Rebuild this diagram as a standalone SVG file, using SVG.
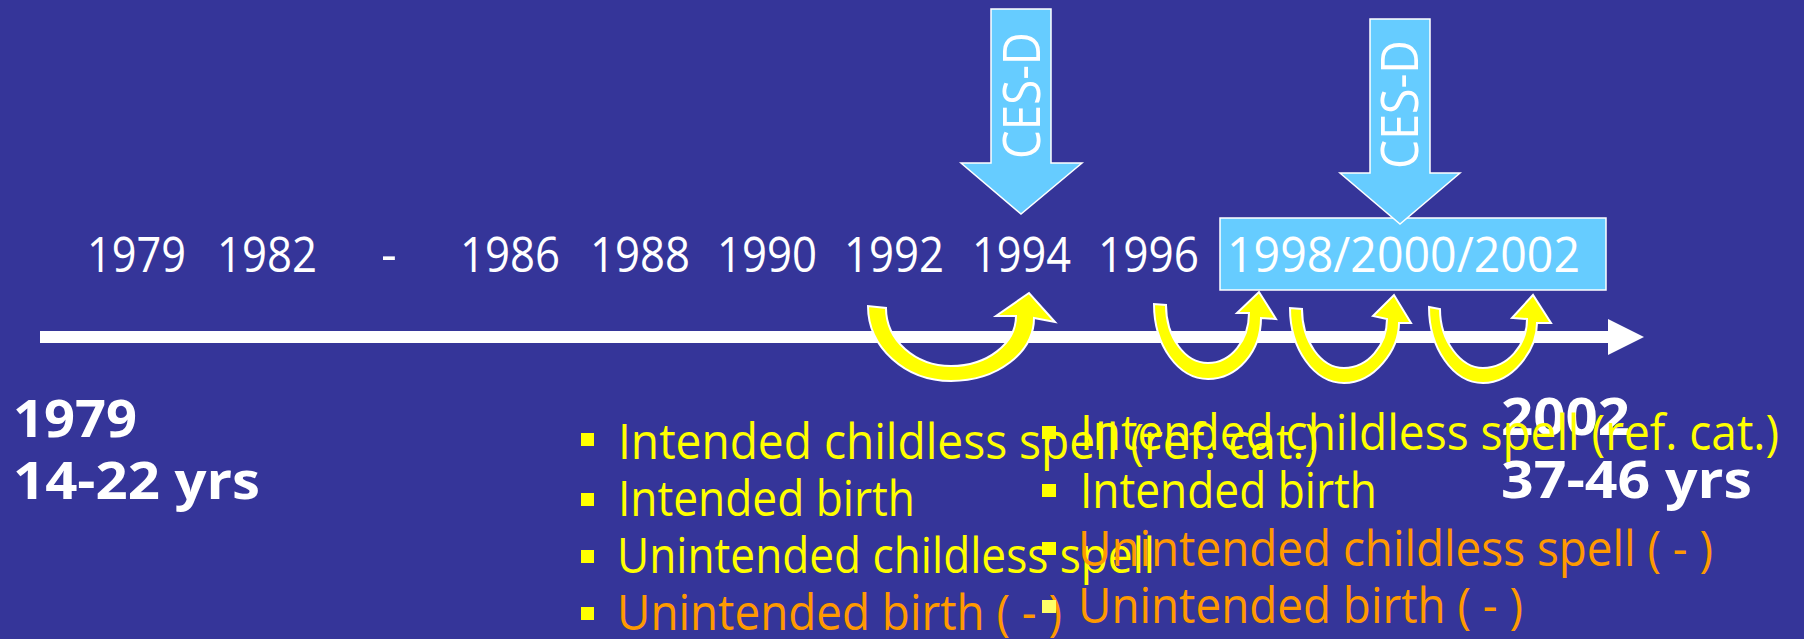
<svg xmlns="http://www.w3.org/2000/svg" width="1804" height="639" viewBox="0 0 1804 639">
<style>
.yr{font-family:"Open Sans","DejaVu Sans",sans-serif;font-size:49px;fill:#ffffff}
.bold{font-family:"Open Sans","DejaVu Sans",sans-serif;font-size:52px;font-weight:bold;fill:#ffffff}
.li{font-family:"Open Sans","DejaVu Sans",sans-serif;font-size:49px}
.y{fill:#ffff00}
.o{fill:#ff9900}
.ces{font-family:"Open Sans","DejaVu Sans",sans-serif;font-size:51px;fill:#ffffff}
.blue{fill:#66ccff;stroke:#ffffff;stroke-width:1.5}
.curve{fill:#ffff00;stroke:#ffffff;stroke-width:2;stroke-linejoin:miter}
.bul{fill:#ffff00}
</style>
<defs>
<marker id="axhead" viewBox="0 0 36 36" refX="0" refY="18" markerWidth="36" markerHeight="36" markerUnits="userSpaceOnUse" orient="auto">
<path d="M0 0 L36 18 L0 36 Z" fill="#ffffff"/>
</marker>
</defs>
<rect x="0" y="0" width="1804" height="639" fill="#353599"/>

<g id="years">
<text class="yr" x="87" y="272" textLength="99" lengthAdjust="spacingAndGlyphs">1979</text>
<text class="yr" x="217" y="272" textLength="100" lengthAdjust="spacingAndGlyphs">1982</text>
<text class="yr" x="381" y="272">-</text>
<text class="yr" x="460" y="272" textLength="100" lengthAdjust="spacingAndGlyphs">1986</text>
<text class="yr" x="590" y="272" textLength="100" lengthAdjust="spacingAndGlyphs">1988</text>
<text class="yr" x="717" y="272" textLength="100" lengthAdjust="spacingAndGlyphs">1990</text>
<text class="yr" x="844" y="272" textLength="100" lengthAdjust="spacingAndGlyphs">1992</text>
<text class="yr" x="972" y="272" textLength="99" lengthAdjust="spacingAndGlyphs">1994</text>
<text class="yr" x="1098" y="272" textLength="101" lengthAdjust="spacingAndGlyphs">1996</text>
</g>

<g id="box-1998-2002">
<rect class="blue" x="1220" y="218" width="386" height="72"/>
<text class="yr" x="1227" y="272" textLength="353" lengthAdjust="spacingAndGlyphs">1998/2000/2002</text>
</g>

<g id="cesd-1994">
<polygon class="blue" points="991,9 1051,9 1051,163 1082,163 1021,214 961,163 991,163"/>
<text class="ces" transform="translate(1040,159) rotate(-90)" textLength="127" lengthAdjust="spacingAndGlyphs">CES-D</text>
</g>

<g id="cesd-1998">
<polygon class="blue" points="1370,19 1430,19 1430,173 1460,173 1400,224 1340,173 1370,173"/>
<text class="ces" transform="translate(1418,169) rotate(-90)" textLength="129" lengthAdjust="spacingAndGlyphs">CES-D</text>
</g>

<g id="connectors">
<line x1="40" y1="337" x2="1608" y2="337" stroke="#ffffff" stroke-width="12" marker-end="url(#axhead)"/>
<path class="curve" d="M868 306 C868 347.4 905 381 951 381 C997 381 1034 352.8 1034 318 L1055 322 L1029 293 L996 316 L1016 316 C1016 343.6 987 366 951 366 C915 366 886 340 886 308 Z"/>
<path class="curve" d="M1154 304 C1154 345.4 1178.2 379 1208 379 C1237.3 379 1261 351.7 1261 318 L1276 319 L1259 292 L1237 313 L1249 313 C1249 340.6 1230.6 363 1208 363 C1184.8 363 1166 337 1166 305 Z"/>
<path class="curve" d="M1290 308 C1290 349.4 1314.2 383 1344 383 C1374.4 383 1399 349.9 1399 323 L1411 323 L1394 295 L1373 316 L1387 319 C1387 345.5 1367.7 368 1344 368 C1320.8 368 1302 341 1302 309 Z"/>
<path class="curve" d="M1429 307 C1429 348.4 1453.2 383 1483 383 C1512.8 383 1537 349.9 1537 323 L1551 323 L1533 295 L1512 318 L1527 319 C1527 345.5 1507.3 368 1483 368 C1460.9 368 1440 341 1440 309 Z"/>
</g>

<g id="start-label">
<text class="bold" x="13" y="437" textLength="124" lengthAdjust="spacingAndGlyphs">1979</text>
<text class="bold" x="13" y="499" textLength="247" lengthAdjust="spacingAndGlyphs">14-22 yrs</text>
</g>

<g id="end-label">
<text class="bold" x="1501" y="435" textLength="129" lengthAdjust="spacingAndGlyphs">2002</text>
<text class="bold" x="1501" y="498" textLength="251" lengthAdjust="spacingAndGlyphs">37-46 yrs</text>
</g>

<g id="list-1">
<rect class="bul" x="581" y="433" width="13" height="13"/>
<text class="li y" x="618" y="459" textLength="700" lengthAdjust="spacingAndGlyphs">Intended childless spell (ref. cat.)</text>
<rect class="bul" x="581" y="493" width="13" height="13"/>
<text class="li y" x="618" y="516" textLength="297" lengthAdjust="spacingAndGlyphs">Intended birth</text>
<rect class="bul" x="581" y="550" width="13" height="13"/>
<text class="li y" x="617" y="573" textLength="538" lengthAdjust="spacingAndGlyphs">Unintended childless spell</text>
<rect class="bul" x="581" y="607" width="13" height="13"/>
<text class="li o" x="617" y="630" textLength="445" lengthAdjust="spacingAndGlyphs">Unintended birth ( - )</text>
</g>

<g id="list-2">
<rect class="bul" x="1042" y="426" width="14" height="13"/>
<text class="li y" x="1080" y="450" textLength="699" lengthAdjust="spacingAndGlyphs">Intended childless spell (ref. cat.)</text>
<rect class="bul" x="1042" y="484" width="14" height="13"/>
<text class="li y" x="1080" y="508" textLength="297" lengthAdjust="spacingAndGlyphs">Intended birth</text>
<rect class="bul" x="1042" y="542" width="14" height="13"/>
<text class="li o" x="1078" y="566" textLength="635" lengthAdjust="spacingAndGlyphs">Unintended childless spell ( - )</text>
<rect x="1042" y="600" width="14" height="13" fill="#ffff66"/>
<text class="li o" x="1078" y="623" textLength="445" lengthAdjust="spacingAndGlyphs">Unintended birth ( - )</text>
</g>
</svg>
